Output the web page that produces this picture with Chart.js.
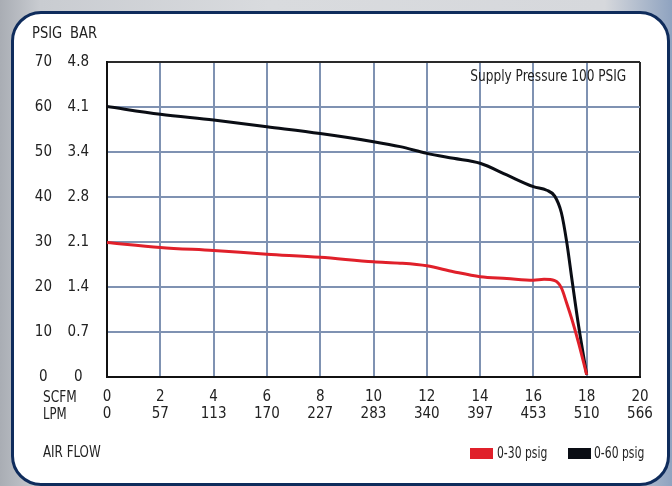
<!DOCTYPE html>
<html>
<head>
<meta charset="utf-8">
<script src="https://cdn.jsdelivr.net/npm/chart.js@4.4.1/dist/chart.umd.min.js"></script>
<style>
  html, body { margin: 0; padding: 0; }
  body {
    width: 672px; height: 486px; overflow: hidden; position: relative;
    background: linear-gradient(90deg, #a9adb4 0%, #c9ccd1 6%, #d9dbde 40%, #d6d8dc 90%, #8fa3c0 100%);
    font-family: 'DejaVu Sans Condensed', 'Liberation Sans', sans-serif;
    color: #222;
  }
  #panel {
    position: absolute; left: 11px; top: 11px; width: 659px; height: 475px;
    box-sizing: border-box; background: #fff;
    border: 3px solid #0f2c5c; border-radius: 30px;
  }
  #wrap { position: absolute; left: 0; top: 0; width: 672px; height: 486px; }
  .t { position: absolute; font-size: 15px; line-height: 1; white-space: nowrap;
       transform-origin: left center; }
  .r { transform-origin: right center; }
  .box { position: absolute; width: 23px; height: 11px; }
</style>
</head>
<body>
<div id="panel"></div>
<div id="wrap"><canvas id="c" width="672" height="486"></canvas></div>
<div class="t" style="left:32px; top:33px; transform: translateY(-50%) scaleX(0.97);">PSIG</div>
<div class="t" style="left:70px; top:33px; transform: translateY(-50%) scaleX(0.97);">BAR</div>
<div class="t" style="left:43px; top:397px; transform: translateY(-50%) scaleX(0.9);">SCFM</div>
<div class="t" style="left:43px; top:414px; transform: translateY(-50%) scaleX(0.87);">LPM</div>
<div class="t" style="left:43px; top:452px; transform: translateY(-50%) scaleX(0.88);">AIR FLOW</div>
<div class="t r" style="right:46px; top:76px; transform: translateY(-50%) scaleX(0.9);">Supply Pressure 100 PSIG</div>
<div class="box" style="left:470px; top:448px; background:#e0202a"></div>
<div class="t" style="left:497px; top:453px; transform: translateY(-50%) scaleX(0.8);">0-30 psig</div>
<div class="box" style="left:568px; top:448px; background:#0a0d14"></div>
<div class="t" style="left:594px; top:453px; transform: translateY(-50%) scaleX(0.8);">0-60 psig</div>
<script>
// ---- data ----
const scfmLabels = ['0','2','4','6','8','10','12','14','16','18','20'];
const lpmLabels  = ['0','57','113','170','227','283','340','397','453','510','566'];
const psigLabels = ['0','10','20','30','40','50','60','70'];
const barLabels  = ['0','0.7','1.4','2.1','2.8','3.4','4.1','4.8'];

const flow060 = [0, 2, 4, 6, 8, 10, 11, 12, 13, 14, 15, 16, 16.5, 16.8, 17.05, 17.25, 17.45, 17.7, 18];
const psig060 = [60.1, 58.4, 57.1, 55.6, 54.1, 52.3, 51.2, 49.7, 48.6, 47.5, 44.9, 42.3, 41.5, 40.2, 36.5, 30, 21.5, 11.2, 0.5];

const flow030 = [0, 2, 4, 6, 8, 10, 11, 12, 13, 14, 15, 16, 16.4, 16.8, 17.05, 17.25, 17.45, 17.7, 18];
const psig030 = [29.9, 28.8, 28.1, 27.3, 26.6, 25.6, 25.3, 24.7, 23.4, 22.3, 21.9, 21.5, 21.7, 21.4, 19.8, 16.4, 12.7, 7.5, 0.5];

const toPts = (xs, ys) => xs.map((x, i) => ({ x: x, y: ys[i] }));

const FONT = { family: "'DejaVu Sans Condensed', 'Liberation Sans', sans-serif", size: 15, lineHeight: 1.13 };
const GRID = '#7f92b2';

new Chart(document.getElementById('c'), {
  type: 'line',
  data: {
    datasets: [
      { label: '0-30 psig', data: toPts(flow030, psig030), borderColor: '#e0202a', borderWidth: 3,
        pointRadius: 0, cubicInterpolationMode: 'monotone', fill: false },
      { label: '0-60 psig', data: toPts(flow060, psig060), borderColor: '#0a0d14', borderWidth: 3,
        pointRadius: 0, cubicInterpolationMode: 'monotone', fill: false }
    ]
  },
  options: {
    responsive: false,
    animation: false,
    events: [],
    layout: { padding: { top: 62, right: 32, bottom: 0, left: 0 } },
    plugins: { legend: { display: false }, tooltip: { enabled: false } },
    scales: {
      x: {
        type: 'linear', min: 0, max: 20,
        ticks: { stepSize: 2, color: '#222', font: FONT, padding: 11.5, maxRotation: 0, autoSkip: false,
                 callback: (v, i) => [scfmLabels[i], lpmLabels[i]] },
        grid: { drawTicks: false, lineWidth: 2,
                color: (ctx) => (ctx.tick && ctx.tick.value === 20) ? '#2a2a2a' : GRID },
        border: { color: '#111', width: 2 },
        afterFit: (s) => { s.height = 109; }
      },
      y: {
        position: 'left', weight: 1, min: 0, max: 70,
        ticks: { stepSize: 10, color: '#222', font: FONT, padding: 10, crossAlign: 'center',
                 callback: (v, i) => psigLabels[i] },
        grid: { drawTicks: false, lineWidth: 2,
                color: (ctx) => (ctx.tick && ctx.tick.value === 70) ? '#2a2a2a' : GRID },
        border: { display: false },
        afterFit: (s) => { s.width = 62; }
      },
      yBar: {
        position: 'left', weight: 0, min: 0, max: 70,
        ticks: { stepSize: 10, color: '#222', font: FONT, padding: 18, crossAlign: 'center',
                 callback: (v, i) => barLabels[i] },
        grid: { display: false, drawTicks: false },
        border: { color: '#111', width: 2 },
        afterFit: (s) => { s.width = 45; }
      }
    }
  }
});
</script>
</body>
</html>
